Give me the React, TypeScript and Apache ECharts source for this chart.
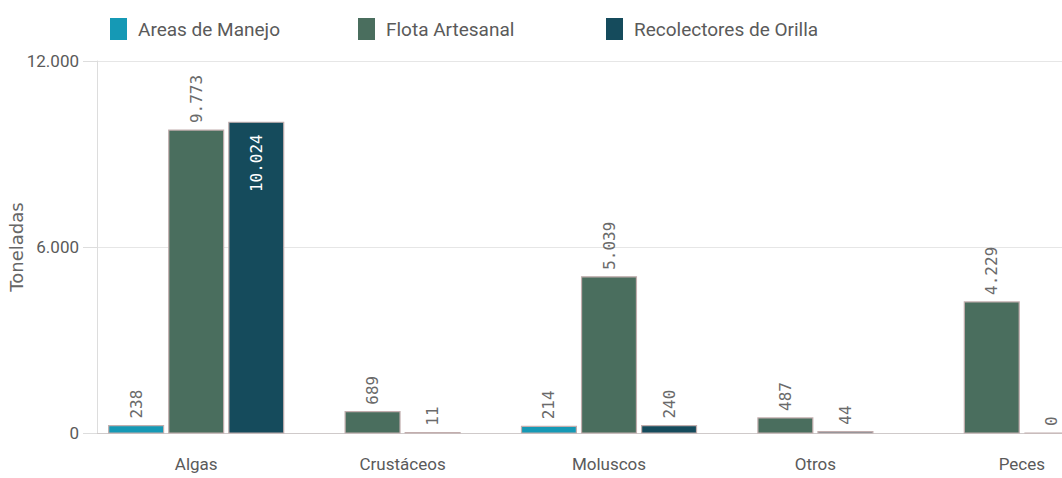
import React, { useEffect, useRef } from "react";
import * as echarts from "echarts";

const categories = ["Algas", "Crustáceos", "Moluscos", "Otros", "Peces"];
const seriesNames = ["Areas de Manejo", "Flota Artesanal", "Recolectores de Orilla"];
const areasManejo: (number | null)[] = [238, null, 214, null, null];
const flotaArtesanal: (number | null)[] = [9773, 689, 5039, 487, 4229];
const recolectoresOrilla: (number | null)[] = [10024, 11, 240, 44, 0];
const yTicks = [0, 6000, 12000];

const allSeries = [areasManejo, flotaArtesanal, recolectoresOrilla];
const colors = ["#1599b5", "#4a6e5e", "#154b5c"];

const fmt = (v: number) => String(Math.round(v)).replace(/\B(?=(\d{3})+(?!\d))/g, ".");

const LABEL_FONT = 16;
const UI_FONT = "Roboto, 'Open Sans', sans-serif";
const LEGEND_PITCH = 248;

export default function App() {
  const ref = useRef<HTMLDivElement>(null);
  useEffect(() => {
    if (!ref.current) return;
    const chart = echarts.init(ref.current, undefined, { renderer: "svg" });
    const yMax = yTicks[yTicks.length - 1];

    const renderItem = (params: any, api: any) => {
      const ci = api.value(0);
      const v = api.value(1);
      const si = params.seriesIndex;
      const present = allSeries
        .map((arr, idx) => (arr[ci] !== null && arr[ci] !== undefined ? idx : -1))
        .filter((idx) => idx >= 0);
      const n = present.length;
      const k = present.indexOf(si);
      const band = api.size([1, 0])[0];
      const base = api.coord([ci, 0]);
      const top = api.coord([ci, v]);
      const gridTop = api.coord([ci, yMax])[1];
      const barW = band * 0.266;
      const step = band * 0.291;
      const cx = base[0] + (k - (n - 1) / 2) * step;
      const h = base[1] - top[1];
      const text = fmt(v);
      const need = text.length * LABEL_FONT * 0.602 + 7;
      const inside = top[1] - gridTop < need;
      const label = inside
        ? {
            type: "text",
            x: cx,
            y: top[1] + 12,
            rotation: Math.PI / 2,
            style: {
              text,
              align: "right",
              verticalAlign: "middle",
              fontFamily: "DejaVu Sans Mono",
              fontSize: LABEL_FONT,
              fill: "#ffffff",
            },
          }
        : {
            type: "text",
            x: cx,
            y: top[1] - 7,
            rotation: Math.PI / 2,
            style: {
              text,
              align: "left",
              verticalAlign: "middle",
              fontFamily: "DejaVu Sans Mono",
              fontSize: LABEL_FONT,
              fill: "#6a6a6a",
            },
          };
      return {
        type: "group",
        children: [
          {
            type: "rect",
            shape: { x: cx - barW / 2, y: top[1], width: barW, height: h },
            style: { fill: colors[si], stroke: "#c2aeae", lineWidth: 1.2 },
          },
          label,
        ],
      };
    };

    const series = allSeries.map((arr, si) => ({
      name: seriesNames[si],
      type: "custom",
      renderItem,
      itemStyle: { color: colors[si] },
      encode: { x: 0, y: 1 },
      data: arr
        .map((v, i) => (v === null ? null : [i, v]))
        .filter((d) => d !== null),
      z: 3,
    }));

    const legends = seriesNames.map((name, i) => ({
      data: [name],
      left: 105 + i * LEGEND_PITCH,
      top: 13,
      icon: "rect",
      itemWidth: 17,
      itemHeight: 22,
      itemGap: 10,
      itemStyle: { borderWidth: 0 },
      textStyle: {
        fontFamily: UI_FONT,
        fontSize: 19,
        color: "#5a5a5a",
        padding: [0, 0, 0, 6],
      },
    }));

    chart.setOption({
      animation: false,
      legend: legends,
      grid: {
        left: 93,
        top: 61,
        width: 1032,
        height: 372,
        containLabel: false,
        outerBoundsMode: "none",
      },
      xAxis: {
        type: "category",
        data: categories,
        axisTick: { show: false },
        axisLine: { lineStyle: { color: "#cfcaca", width: 1 } },
        axisLabel: {
          margin: 22,
          fontFamily: UI_FONT,
          fontSize: 17,
          color: "#5a5a5a",
        },
      },
      yAxis: {
        type: "value",
        min: 0,
        max: yMax,
        interval: 6000,
        offset: -4,
        name: "Toneladas",
        nameLocation: "middle",
        nameRotate: 90,
        nameGap: 72,
        nameMoveOverlap: false,
        nameTextStyle: { fontFamily: "DejaVu Sans", fontSize: 18, color: "#666666" },
        axisLine: { show: true, lineStyle: { color: "#dddddd" } },
        axisTick: { show: true, length: 14, lineStyle: { color: "#dddddd" } },
        splitLine: { lineStyle: { color: "#e6e6e6" } },
        axisLabel: {
          margin: 18,
          formatter: (v: number) => fmt(v),
          fontFamily: UI_FONT,
          fontSize: 17,
          color: "#5a5a5a",
        },
      },
      series,
    });
    return () => chart.dispose();
  }, []);
  return (
    <div
      ref={ref}
      style={{ position: "absolute", left: 0, top: 0, width: 1062, height: 478, background: "#fff" }}
    />
  );
}
